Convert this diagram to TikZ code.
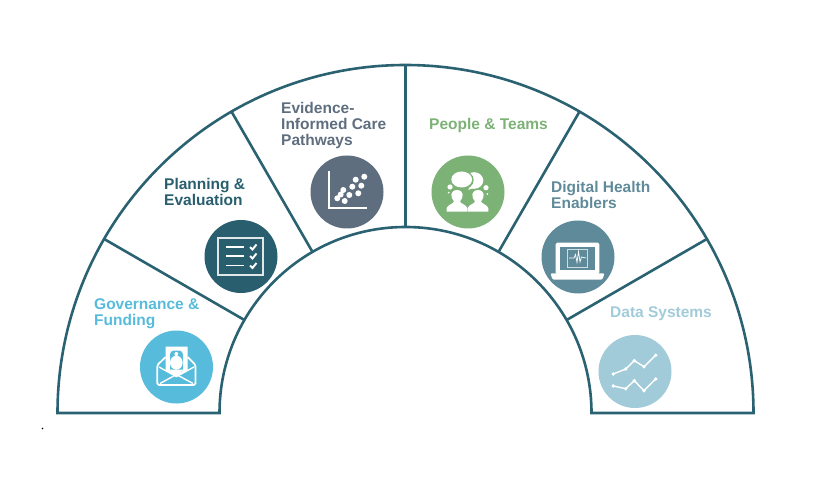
\documentclass[tikz,border=0pt]{standalone}
\usepackage{fontspec}
\usetikzlibrary{calc}
\setmainfont{Liberation Sans}
\definecolor{ringc}{HTML}{2B6272}
\definecolor{govc}{HTML}{57BBDB}
\definecolor{planc}{HTML}{285E6E}
\definecolor{evic}{HTML}{5F6E7F}
\definecolor{peoc}{HTML}{7DB277}
\definecolor{digc}{HTML}{5F8A9A}
\definecolor{datc}{HTML}{A2CBD9}
\tikzset{
  x=1pt,y=-1pt,
  ring/.style={draw=ringc,line width=2.6pt,line join=miter},
  disc/.style={circle,minimum size=73pt,inner sep=0pt,fill=#1},
  lab/.style={font=\fontsize{15.5}{16}\selectfont\bfseries,align=left,anchor=base west,inner sep=0pt,text=#1},
  iconl/.style={draw=white,line width=1.3pt},
}
\begin{document}
\begin{tikzpicture}
\useasboundingbox (0,0) rectangle (832,486);
\coordinate (c) at (405.5,413);
% ring
\draw[ring] ($(c)+(-348,0)$) arc[start angle=180,end angle=360,x radius=348,y radius=348]
  -- ($(c)+(186,0)$) arc[start angle=360,end angle=180,x radius=186,y radius=186] -- cycle;
\foreach \a in {30,60,90,120,150}{
  \draw[ring] ($(c)+({186*cos(\a)},{-186*sin(\a)})$) -- ($(c)+({348*cos(\a)},{-348*sin(\a)})$);
}
% discs
\node[disc=govc] (gov) at (176.5,367) {};
\node[disc=planc] (plan) at (241,256.5) {};
\node[disc=evic] (evi) at (347,192) {};
\node[disc=peoc] (peo) at (468,192) {};
\node[disc=digc] (dig) at (578,257) {};
\node[disc=datc] (dat) at (635,371.5) {};
% labels
\node[lab=govc] (tgov) at (94,325.7) {Governance \&\\Funding};
\node[lab=planc] (tplan) at (164,205.7) {Planning \&\\Evaluation};
\node[lab=evic] (tevi) at (281,145.7) {Evidence-\\Informed Care\\Pathways};
\node[lab=peoc] (tpeo) at (429,129.7) {People \& Teams};
\node[lab=digc] (tdig) at (551,208.7) {Digital Health\\Enablers};
\node[lab=datc] (tdat) at (610,317.7) {Data Systems};
% planning icon
\draw[iconl,draw=white!85!planc] (218,238) rectangle (263,275);
\foreach \y in {247,256,265.5}{
  \draw[white,line width=1.3pt] (226,\y) -- (244,\y);
  \draw[white,line width=1.9pt] (250,\y) -- (252.5,\y+2.5) -- (256.5,\y-2.5);
}
% envelope icon
\draw[iconl,line width=1.7pt,line join=round,rounded corners=1.5pt] (165.7,357) -- (157.3,365) -- (157.3,385) -- (195.5,385) -- (195.5,365) -- (187.7,357);
\fill[white] (165.5,346.7) -- (187.7,346.7) -- (187.7,371) -- (176.4,377) -- (165.5,371) -- cycle;
\fill[govc,rounded corners=4pt] (170,350.5) -- (183,350.5) -- (183,373) -- (170,373) -- cycle;
\fill[white] (176.3,354) circle (2);
\fill[white] (176.3,362.7) ellipse (6.3 and 7);
\fill[white] (169,369.5) -- (183.5,369.5) -- (176.4,377) -- cycle;
\draw[white,line width=1.4pt] (159,367) -- (176.4,376.5) -- (194,367);
\draw[white,line width=1.4pt] (160,383.5) -- (176.4,374.5) -- (193,383.5);
% evidence icon
\draw[white,line width=1.9pt] (329.3,171) -- (329.3,208) -- (367,208);
\foreach \p in {(364.3,176.7),(355.7,179.7),(361.3,185.7),(352.3,186.7),(343.3,190),(358.3,193.3),(349.3,195),(340.7,194.5),(337.3,198.3),(344.7,201)}{
  \fill[white] \p circle (3);
}
% people icon
\fill[white] (474,180.5) ellipse (9.3 and 8.3);
\fill[white] (470,187) -- (476,187) -- (468,190) -- cycle;
\fill[peoc] (461.7,180) ellipse (12 and 9.8);
\fill[white] (461.7,179.5) ellipse (10.4 and 8);
\fill[white] (450,187) circle (2.6);
\fill[white] (486,187.7) circle (2.6);
\fill[white] (448.7,192.7) circle (1);
\fill[white] (487.3,194) circle (1);
\foreach \x in {457,478}{
  \fill[white] (\x-10.3,211.7) -- (\x-10.3,208) .. controls (\x-9,204.5) and (\x-4,204) .. (\x-3,201.5)
    .. controls (\x-7,197) and (\x-7,190.3) .. (\x,190) .. controls (\x+7,190.3) and (\x+7,197) .. (\x+3,201.5)
    .. controls (\x+4,204) and (\x+9,204.5) .. (\x+10.3,208) -- (\x+10.3,211.7) -- cycle;
}
% laptop icon
\fill[white,rounded corners=1.5pt] (555.7,242.7) rectangle (599.3,274);
\fill[digc] (560,247.2) rectangle (595,270);
\draw[white!70!digc,line width=0.6pt] (567.7,249.3) rectangle (587.3,267);
\draw[white,line width=0.7pt] (569,258) -- (574,258) -- (575.5,254.5) -- (577,262.5) -- (578.5,251.5) -- (580,262) -- (581.5,257) -- (586,258);
\fill[white,rounded corners=1.2pt] (550.5,273.3) -- (604.5,273.3) -- (602.5,279.5) -- (552.5,279.5) -- cycle;
% data icon
\draw[white,line width=1.4pt] (613.3,374) coordinate (a1) -- (625.7,369) coordinate (a2) -- (634.3,360.7) coordinate (a3) -- (644,366.7) coordinate (a4) -- (655.7,355.3) coordinate (a5);
\draw[white,line width=1.4pt] (613.3,386) coordinate (b1) -- (625.7,388.7) coordinate (b2) -- (634.3,380.7) coordinate (b3) -- (644,390.7) coordinate (b4) -- (655.7,379) coordinate (b5);
\foreach \n in {a1,a2,a3,a4,a5,b1,b2,b3,b4,b5}{\fill[white] (\n) circle (1.9);}
% stray dot
\fill[black] (42.5,428.5) circle (0.9);
\end{tikzpicture}
\end{document}
